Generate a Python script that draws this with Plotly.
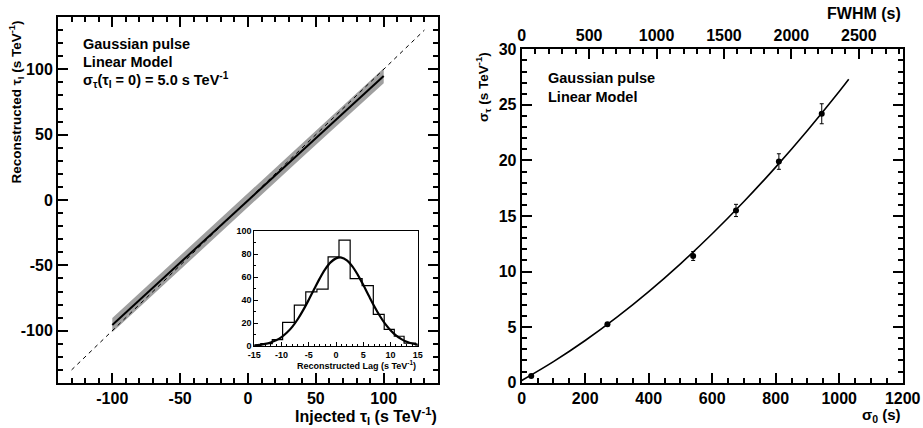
import plotly.graph_objects as go

W, H = 923, 428

# ---------------- data: left panel ----------------
injected = [-100, -80, -60, -40, -20, 0, 20, 40, 60, 80, 100]
reco_mean = [-95.6, -76.5, -57.6, -38.4, -19.2, 0.0, 19.0, 38.0, 57.0, 76.0, 94.9]
reco_low = [-101.2, -82.0, -63.0, -43.6, -24.2, -5.0, 14.0, 32.8, 51.6, 70.4, 89.3]
reco_high = [-90.3, -71.2, -52.4, -33.3, -14.2, 5.0, 24.0, 43.2, 62.4, 81.5, 100.7]
diag = [-130, 130]
left_ticks = [-100, -50, 0, 50, 100]
left_ticktext = ["-100", "-50", "0", "50", "100"]

# ---------------- data: inset histogram ----------------
lag_edges = [-15, -13.8, -11.7, -9.8, -7.65, -5.55, -3.5, -1.45, 0.55, 2.6, 4.8,
             6.85, 8.85, 10.7, 12.5, 14.6, 15]
lag_counts = [0.5, 2, 5.5, 20.5, 35.5, 47, 49.5, 77.5, 92, 58.5, 52.5, 27.5,
              14.5, 8.5, 2.5, 1]
gauss_x = list(range(-15, 16))
gauss_y = [0.6, 1.0, 1.8, 3.1, 5.0, 7.8, 11.7, 16.9, 23.5, 31.4, 40.2, 49.5, 58.6,
           66.6, 72.7, 76.2, 76.9, 74.4, 69.3, 61.9, 53.2, 43.9, 34.8, 26.5, 19.4,
           13.7, 9.2, 6.0, 3.7, 2.2, 1.3]
inset_xticks = [-15, -10, -5, 0, 5, 10, 15]
inset_xticktext = ["-15", "-10", "-5", "0", "5", "10", "15"]

# ---------------- data: right panel ----------------
sigma0 = [30, 270, 540, 675, 810, 945]
sigma_tau = [0.6, 5.25, 11.4, 15.5, 19.9, 24.2]
sigma_tau_err = [0.1, 0.15, 0.4, 0.55, 0.7, 0.9]
fit_x = [0, 100, 200, 300, 400, 500, 600, 700, 800, 900, 1000, 1030]
fit_y = [0.2, 1.9, 3.8, 5.9, 8.2, 10.7, 13.4, 16.3, 19.4, 22.7, 26.2, 27.3]
FWHM_FACTOR = 2.3548

FONT = "Liberation Sans"


def px_x(p):
    return p / W


def px_y(p):
    return 1 - p / H


# step histogram coordinates from edges/counts
hx, hy = [lag_edges[0]], [0]
for i, c in enumerate(lag_counts):
    hx += [lag_edges[i], lag_edges[i + 1]]
    hy += [c, c]
hx.append(lag_edges[-1])
hy.append(0)

fig = go.Figure()

# left panel
fig.add_trace(go.Scatter(x=injected, y=reco_low, mode="lines", line=dict(width=0),
                         showlegend=False, hoverinfo="skip", xaxis="x", yaxis="y"))
fig.add_trace(go.Scatter(x=injected, y=reco_high, mode="lines", line=dict(width=0),
                         fill="tonexty", fillcolor="rgb(160,160,160)",
                         showlegend=False, xaxis="x", yaxis="y"))
fig.add_trace(go.Scatter(x=diag, y=diag, mode="lines",
                         line=dict(color="black", width=1, dash="4px,4px"),
                         showlegend=False, xaxis="x", yaxis="y"))
fig.add_trace(go.Scatter(x=injected, y=reco_mean, mode="lines",
                         line=dict(color="black", width=2),
                         showlegend=False, xaxis="x", yaxis="y"))

# inset
fig.add_trace(go.Scatter(x=hx, y=hy, mode="lines", line=dict(color="black", width=1.2),
                         showlegend=False, xaxis="x3", yaxis="y3"))
fig.add_trace(go.Scatter(x=gauss_x, y=gauss_y, mode="lines", line_shape="spline",
                         line=dict(color="black", width=2.2),
                         showlegend=False, xaxis="x3", yaxis="y3"))

# right panel
fig.add_trace(go.Scatter(x=fit_x, y=fit_y, mode="lines", line_shape="spline",
                         line=dict(color="black", width=1.6),
                         showlegend=False, xaxis="x2", yaxis="y2"))
fig.add_trace(go.Scatter(x=sigma0, y=sigma_tau, mode="markers",
                         marker=dict(color="black", size=6),
                         error_y=dict(type="data", array=sigma_tau_err, color="black",
                                      thickness=1, width=2),
                         showlegend=False, xaxis="x2", yaxis="y2"))
# invisible trace on the FWHM axis so it gets drawn
fig.add_trace(go.Scatter(x=[0], y=[0], mode="markers", marker=dict(opacity=0),
                         showlegend=False, hoverinfo="skip", xaxis="x4", yaxis="y2"))

tickfont = dict(family=FONT, size=16, color="black", weight="bold")
common = dict(showgrid=False, zeroline=False, showline=True, linecolor="black",
              linewidth=2, ticks="inside", tickcolor="black", tickwidth=1.5,
              ticklen=10, tickfont=tickfont, automargin=False)

L = (58, 438, 17, 383)      # left, right, top, bottom (px)
R = (521.7, 902.7, 49.3, 382.7)
I = (254.3, 417.7, 231, 346)

inset_common = dict(showgrid=False, zeroline=False, showline=True,
                    linecolor="black", linewidth=1, mirror=True, ticks="inside",
                    ticklen=4, tickcolor="black", tickwidth=1, automargin=False,
                    tickfont=dict(family=FONT, size=9, color="black", weight="bold"))

fig.update_layout(
    width=W, height=H, margin=dict(l=0, r=0, t=0, b=0),
    paper_bgcolor="white", plot_bgcolor="rgba(0,0,0,0)",
    font=dict(family=FONT, color="black"),
    xaxis=dict(domain=[px_x(L[0]), px_x(L[1])], anchor="y", range=[-140, 140],
               tickvals=left_ticks, ticktext=left_ticktext, mirror="ticks",
               minor=dict(tick0=0, dtick=10, ticklen=5, ticks="inside", tickcolor="black"),
               **common),
    yaxis=dict(domain=[px_y(L[3]), px_y(L[2])], anchor="x", range=[-140, 140],
               tickvals=left_ticks, ticktext=left_ticktext, mirror="ticks",
               minor=dict(tick0=0, dtick=10, ticklen=5, ticks="inside", tickcolor="black"),
               **common),
    xaxis2=dict(domain=[px_x(R[0]), px_x(R[1])], anchor="y2", range=[0, 1200],
                tick0=0, dtick=200, mirror=False,
                minor=dict(dtick=50, ticklen=5, ticks="inside", tickcolor="black"),
                **common),
    yaxis2=dict(domain=[px_y(R[3]), px_y(R[2])], anchor="x2", range=[0, 30],
                tick0=0, dtick=5, mirror="ticks",
                minor=dict(dtick=1, ticklen=5, ticks="inside", tickcolor="black"),
                **common),
    xaxis4=dict(overlaying="x2", side="top", anchor="y2",
                range=[0, 1200 * FWHM_FACTOR], tick0=0, dtick=500,
                minor=dict(dtick=100, ticklen=5, ticks="inside", tickcolor="black"),
                **common),
    xaxis3=dict(domain=[px_x(I[0]), px_x(I[1])], anchor="y3", range=[-15, 15],
                tickvals=inset_xticks, ticktext=inset_xticktext,
                minor=dict(tick0=0, dtick=1, ticklen=2, ticks="inside", tickcolor="black"),
                **inset_common),
    yaxis3=dict(domain=[px_y(I[3]), px_y(I[2])], anchor="x3", range=[0, 100],
                tick0=0, dtick=20,
                minor=dict(dtick=10, ticklen=2, ticks="inside", tickcolor="black"),
                **inset_common),
)

tfont = dict(family=FONT, size=16, color="black", weight="bold")
yfont = dict(family=FONT, size=13.5, color="black", weight="bold")
lfont = dict(family=FONT, size=14.5, color="black", weight="bold")
ann = []
# axis titles
ann.append(dict(text="Injected τ<sub>I</sub> (s TeV<sup>-1</sup>)", x=px_x(439), y=px_y(416),
                xanchor="right", yanchor="middle", font=tfont))
ann.append(dict(text="Reconstructed τ<sub>I</sub> (s TeV<sup>-1</sup>)", x=px_x(17), y=px_y(19),
                xanchor="center", yanchor="top", textangle=-90, font=yfont))
ann.append(dict(text="σ<sub>0</sub> (s)", x=px_x(903), y=px_y(415),
                xanchor="right", yanchor="middle",
                font=dict(family=FONT, size=15, color="black", weight="bold")))
ann.append(dict(text="σ<sub>τ</sub> (s TeV<sup>-1</sup>)", x=px_x(483), y=px_y(50),
                xanchor="center", yanchor="top", textangle=-90, font=yfont))
ann.append(dict(text="FWHM (s)", x=px_x(903), y=px_y(13),
                xanchor="right", yanchor="middle", font=tfont))
ann.append(dict(text="Reconstructed Lag (s TeV<sup>-1</sup>)", x=px_x(418), y=px_y(365),
                xanchor="right", yanchor="middle",
                font=dict(family=FONT, size=9, color="black", weight="bold")))
# panel labels
for txt, yy in [("Gaussian pulse", 44), ("Linear Model", 62),
                ("σ<sub>τ</sub>(τ<sub>I</sub> = 0) = 5.0 s TeV<sup>-1</sup>", 80)]:
    ann.append(dict(text=txt, x=px_x(81), y=px_y(yy), xanchor="left", yanchor="middle",
                    font=lfont))
for txt, yy in [("Gaussian pulse", 78), ("Linear Model", 97)]:
    ann.append(dict(text=txt, x=px_x(546), y=px_y(yy), xanchor="left", yanchor="middle",
                    font=lfont))
for a in ann:
    a.update(xref="paper", yref="paper", showarrow=False)
fig.update_layout(annotations=ann)

fig.write_html("out.html", config={"displayModeBar": False},
               post_script="document.body.style.margin='0px';"
                           "document.body.style.padding='0px';")
